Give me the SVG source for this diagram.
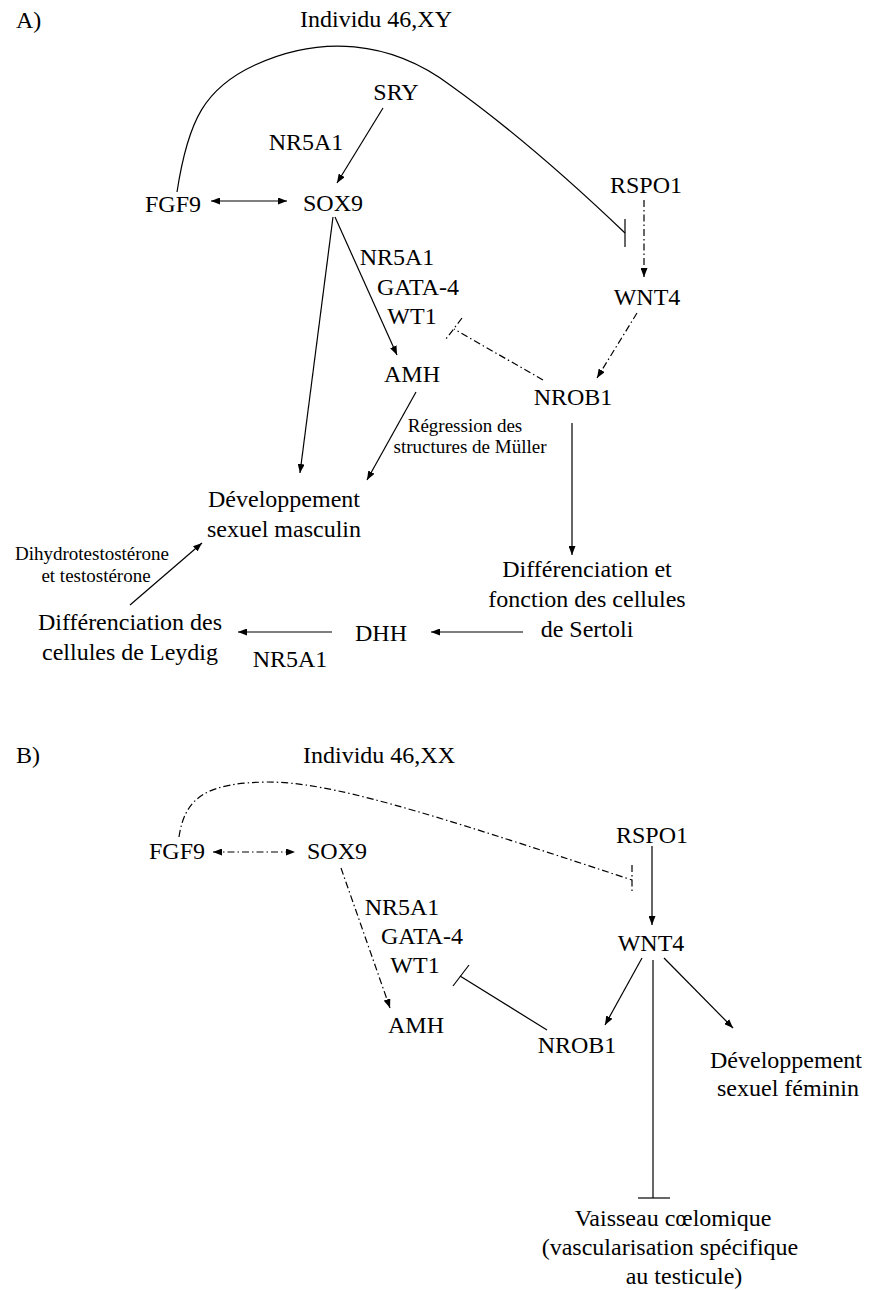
<svg xmlns="http://www.w3.org/2000/svg" width="871" height="1290" viewBox="0 0 871 1290">
  <style>
    text { font-family: "Liberation Serif", "Times New Roman", serif; fill: #000; }
    .lbl { font-size: 24px; text-anchor: middle; }
    .sm { font-size: 19px; text-anchor: middle; }
    .panel { font-size: 24px; }
    .edge { fill: none; stroke: #000; stroke-width: 1.2; }
    .dd { stroke-dasharray: 7 3 1.5 3; }
    .arr { marker-end: url(#head); }
    .both { marker-start: url(#head); marker-end: url(#head); }
  </style>
  <defs>
    <marker id="head" viewBox="0 0 9 7" refX="9" refY="3.5" markerWidth="9" markerHeight="7" markerUnits="userSpaceOnUse" orient="auto-start-reverse">
      <path d="M0,0 L9,3.5 L0,7 Z" fill="#000"/>
    </marker>
  </defs>
  <rect width="871" height="1290" fill="#fff"/>

  <!-- Panel A : 46,XY -->
  <text class="panel" x="16" y="28">A)</text>
  <g id="a-title"><text class="lbl" x="376" y="27">Individu 46,XY</text></g>
  <g id="a-sry"><text class="lbl" x="396" y="100">SRY</text></g>
  <g id="a-nr5a1-sry"><text class="lbl" x="306" y="150">NR5A1</text></g>
  <g id="a-fgf9"><text class="lbl" x="173" y="212">FGF9</text></g>
  <g id="a-sox9"><text class="lbl" x="333" y="211">SOX9</text></g>
  <g id="a-rspo1"><text class="lbl" x="646" y="193">RSPO1</text></g>
  <g id="a-wnt4"><text class="lbl" x="647" y="305">WNT4</text></g>
  <g id="a-cofactors">
    <text class="lbl" x="397" y="265">NR5A1</text>
    <text class="lbl" x="418" y="295">GATA-4</text>
    <text class="lbl" x="412" y="324">WT1</text>
  </g>
  <g id="a-amh"><text class="lbl" x="412" y="382">AMH</text></g>
  <g id="a-nrob1"><text class="lbl" x="573" y="405">NROB1</text></g>
  <g id="a-muller">
    <text class="sm" x="465" y="432">Régression des</text>
    <text class="sm" x="470" y="453">structures de Müller</text>
  </g>
  <g id="a-dev-masc">
    <text class="lbl" x="284" y="507">Développement</text>
    <text class="lbl" x="284" y="537">sexuel masculin</text>
  </g>
  <g id="a-androgens">
    <text class="sm" x="92" y="560">Dihydrotestostérone</text>
    <text class="sm" x="96" y="582">et testostérone</text>
  </g>
  <g id="a-sertoli">
    <text class="lbl" x="587" y="577">Différenciation et</text>
    <text class="lbl" x="587" y="607">fonction des cellules</text>
    <text class="lbl" x="587" y="637">de Sertoli</text>
  </g>
  <g id="a-dhh"><text class="lbl" x="381" y="641">DHH</text></g>
  <g id="a-leydig">
    <text class="lbl" x="130" y="630">Différenciation des</text>
    <text class="lbl" x="130" y="660">cellules de Leydig</text>
  </g>
  <g id="a-nr5a1-dhh"><text class="lbl" x="290" y="667">NR5A1</text></g>

  <!-- Panel B : 46,XX -->
  <text class="panel" x="16" y="763">B)</text>
  <g id="b-title"><text class="lbl" x="379" y="763">Individu 46,XX</text></g>
  <g id="b-fgf9"><text class="lbl" x="177" y="859">FGF9</text></g>
  <g id="b-sox9"><text class="lbl" x="337" y="859">SOX9</text></g>
  <g id="b-rspo1"><text class="lbl" x="652" y="843">RSPO1</text></g>
  <g id="b-wnt4"><text class="lbl" x="651" y="951">WNT4</text></g>
  <g id="b-cofactors">
    <text class="lbl" x="402" y="915">NR5A1</text>
    <text class="lbl" x="422" y="944">GATA-4</text>
    <text class="lbl" x="415" y="973">WT1</text>
  </g>
  <g id="b-amh"><text class="lbl" x="416" y="1033">AMH</text></g>
  <g id="b-nrob1"><text class="lbl" x="577" y="1053">NROB1</text></g>
  <g id="b-dev-fem">
    <text class="lbl" x="786" y="1068">Développement</text>
    <text class="lbl" x="788" y="1096">sexuel féminin</text>
  </g>
  <g id="b-coelomic">
    <text class="lbl" x="673" y="1226">Vaisseau cœlomique</text>
    <text class="lbl" x="670" y="1255">(vascularisation spécifique</text>
    <text class="lbl" x="684" y="1284">au testicule)</text>
  </g>

  <g id="connectors">
    <!-- A -->
    <path class="edge" d="M177,192 C188,120 205,88 255,65 C320,35 390,40 450,85 C520,135 580,190 625,233"/>
    <line class="edge" x1="625" y1="219" x2="625" y2="247"/>
    <line class="edge both" x1="211" y1="201" x2="287" y2="201"/>
    <line class="edge arr" x1="383" y1="108" x2="337" y2="183"/>
    <line class="edge dd arr" x1="644" y1="200" x2="644" y2="277"/>
    <line class="edge arr" x1="335" y1="217" x2="397" y2="355"/>
    <line class="edge arr" x1="333" y1="217" x2="300" y2="473"/>
    <line class="edge dd" x1="543" y1="380" x2="454" y2="329"/>
    <line class="edge dd" x1="462" y1="318" x2="446" y2="339"/>
    <line class="edge dd arr" x1="637" y1="313" x2="597" y2="378"/>
    <line class="edge arr" x1="416" y1="392" x2="367" y2="480"/>
    <line class="edge arr" x1="572" y1="423" x2="572" y2="555"/>
    <line class="edge arr" x1="523" y1="632" x2="431" y2="632"/>
    <line class="edge arr" x1="332" y1="632" x2="238" y2="632"/>
    <line class="edge arr" x1="130" y1="605" x2="202" y2="543"/>
    <!-- B -->
    <path class="edge dd" d="M179,837 C185,795 210,783 267,782 C330,782 420,810 632,880"/>
    <line class="edge dd" x1="632" y1="865" x2="632" y2="893"/>
    <line class="edge dd both" x1="213" y1="852" x2="295" y2="852"/>
    <line class="edge arr" x1="652" y1="846" x2="652" y2="925"/>
    <line class="edge dd arr" x1="341" y1="868" x2="390" y2="1008"/>
    <line class="edge" x1="547" y1="1030" x2="460" y2="976"/>
    <line class="edge" x1="469" y1="965" x2="453" y2="986"/>
    <line class="edge arr" x1="642" y1="958" x2="605" y2="1025"/>
    <line class="edge arr" x1="664" y1="958" x2="733" y2="1028"/>
    <line class="edge" x1="653" y1="960" x2="653" y2="1198"/>
    <line class="edge" x1="638" y1="1198" x2="670" y2="1198"/>
  </g>
</svg>
